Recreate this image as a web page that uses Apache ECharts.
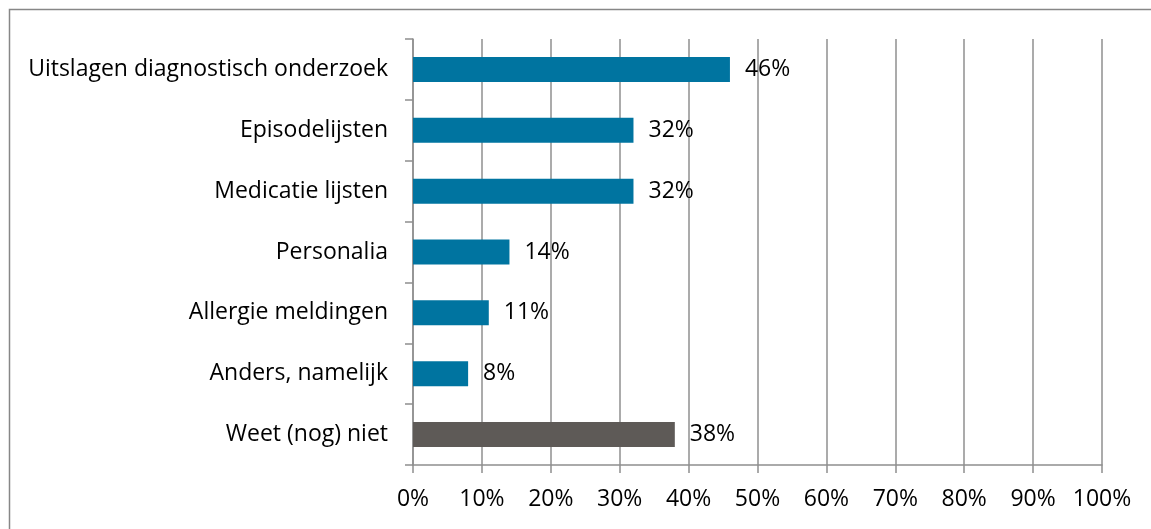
<!DOCTYPE html>
<html>
<head>
<meta charset="utf-8">
<script src="https://cdn.jsdelivr.net/npm/echarts@6/dist/echarts.min.js"></script>
<style>
  html, body { margin: 0; padding: 0; background: #fff; }
  #chart { width: 1151px; height: 529px; }
</style>
</head>
<body>
<div id="chart"></div>
<script>
// categorieen (van boven naar beneden)
var categories = ['Uitslagen diagnostisch onderzoek', 'Episodelijsten', 'Medicatie lijsten', 'Personalia', 'Allergie meldingen', 'Anders, namelijk', 'Weet (nog) niet'];
var values = [46, 32, 32, 14, 11, 8, 38];
var tickLabels = ['0%', '10%', '20%', '30%', '40%', '50%', '60%', '70%', '80%', '90%', '100%'];

var blue = '#0074A0';
var grey = '#5E5A57';
var font = '"Open Sans", sans-serif';
var fs = 23;

var myChart = echarts.init(document.getElementById('chart'));

var barData = values.map(function (v, i) {
  return {
    value: v,
    itemStyle: { color: categories[i] === 'Weet (nog) niet' ? grey : blue }
  };
});

myChart.setOption({
  backgroundColor: '#fff',
  animation: false,
  graphic: [{
    type: 'rect',
    shape: { x: 9.5, y: 9.5, width: 1200, height: 600 },
    style: { fill: 'none', stroke: '#878787', lineWidth: 1.5 },
    silent: true
  }],
  grid: {
    left: 413,
    right: 49,
    top: 39,
    bottom: 64
  },
  xAxis: {
    type: 'value',
    min: 0,
    max: 100,
    interval: 10,
    axisLabel: {
      color: '#000',
      fontSize: fs,
      fontFamily: font,
      margin: 23,
      formatter: function (v) { return tickLabels[Math.round(v / 10)]; }
    },
    axisLine: { show: true, lineStyle: { color: '#8f8f8f', width: 1.5 } },
    axisTick: { show: true, length: 8, lineStyle: { color: '#8f8f8f', width: 1.5 } },
    splitLine: { show: true, lineStyle: { color: '#8f8f8f', width: 1.5 } }
  },
  yAxis: {
    type: 'category',
    inverse: true,
    data: categories,
    boundaryGap: true,
    axisLabel: {
      color: '#000',
      fontSize: fs,
      fontFamily: font,
      margin: 25
    },
    axisLine: { show: true, lineStyle: { color: '#8f8f8f', width: 1.5 } },
    axisTick: { show: true, length: 8, inside: false, lineStyle: { color: '#8f8f8f', width: 1.5 } },
    splitLine: { show: false }
  },
  series: [{
    type: 'bar',
    data: barData,
    barWidth: 25,
    label: {
      show: true,
      position: 'right',
      distance: 15,
      color: '#000',
      fontSize: fs,
      fontFamily: font,
      formatter: function (p) { return p.value + '%'; }
    }
  }]
});
</script>
</body>
</html>
